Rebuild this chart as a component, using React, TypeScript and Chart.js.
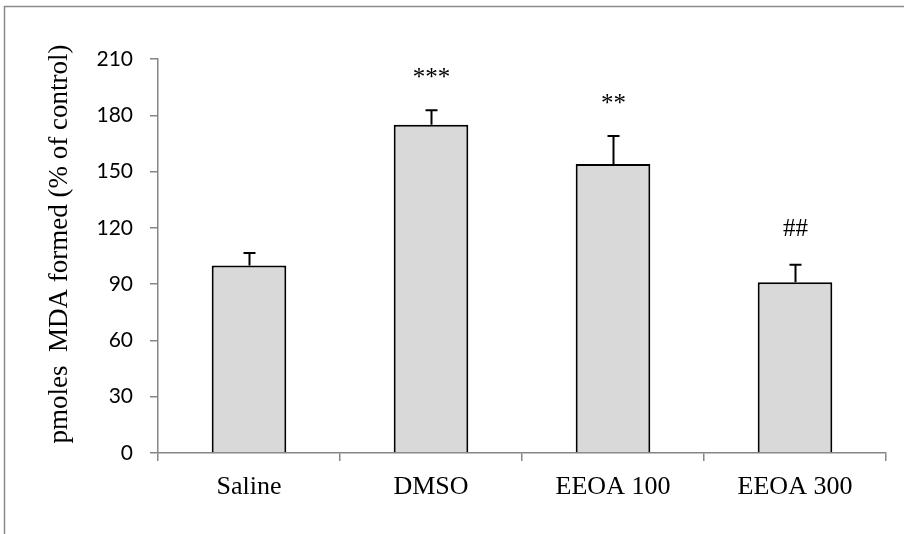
import React, { useEffect, useRef } from "react";
import { Chart, registerables } from "chart.js";

Chart.register(...registerables);

const categories = ["Saline", "DMSO", "EEOA 100", "EEOA 300"];
const means = [100, 175, 154, 91];
const errors = [6.6, 7.7, 14.9, 9.4];
const significance = ["", "***", "**", "##"];
const yMin = 0;
const yMax = 210;
const yStep = 30;
const yTitle = "pmoles  MDA formed (% of control)";

const AXIS_COLOR = "#868686";

const framePlugin = {
  id: "frame",
  beforeDraw(chart: any) {
    const ctx = chart.ctx;
    ctx.save();
    ctx.strokeStyle = "#8a8a8a";
    ctx.lineWidth = 1.5;
    ctx.beginPath();
    ctx.moveTo(4.5, chart.height + 5);
    ctx.lineTo(4.5, 6.5);
    ctx.lineTo(chart.width + 5, 6.5);
    ctx.stroke();
    ctx.restore();
  },
};

const errorBarPlugin = {
  id: "errorBars",
  afterDatasetsDraw(chart: any) {
    const ctx = chart.ctx;
    const meta = chart.getDatasetMeta(0);
    const yScale = chart.scales.y;
    ctx.save();
    meta.data.forEach((bar: any, i: number) => {
      const top = yScale.getPixelForValue(means[i] + errors[i]);
      const x = Math.round(bar.x) + 0.5;
      ctx.strokeStyle = "#000";
      ctx.lineWidth = 2;
      ctx.beginPath();
      ctx.moveTo(x, bar.y);
      ctx.lineTo(x, top);
      ctx.moveTo(x - 6, top);
      ctx.lineTo(x + 6, top);
      ctx.stroke();
      const label = significance[i];
      if (label) {
        ctx.font = "25px 'Liberation Serif', 'Times New Roman', serif";
        ctx.fillStyle = "#000";
        ctx.textAlign = "center";
        ctx.textBaseline = "alphabetic";
        const m = ctx.measureText(label);
        const inkH = m.actualBoundingBoxAscent + m.actualBoundingBoxDescent;
        const center = top - 37;
        const baseline = center + inkH / 2 - m.actualBoundingBoxDescent;
        ctx.fillText(label, x, baseline);
      }
    });
    ctx.restore();
  },
};

const yTitlePlugin = {
  id: "yTitle",
  afterDraw(chart: any) {
    const ctx = chart.ctx;
    const area = chart.chartArea;
    ctx.save();
    ctx.translate(60, (area.top + area.bottom) / 2 - 12);
    ctx.rotate(-Math.PI / 2);
    ctx.font = "27px 'Liberation Serif', 'Times New Roman', serif";
    ctx.fillStyle = "#000";
    ctx.textAlign = "center";
    ctx.textBaseline = "middle";
    ctx.fillText(yTitle, 0, 0);
    ctx.restore();
  },
};

export default function App() {
  const ref = useRef<HTMLCanvasElement | null>(null);

  useEffect(() => {
    if (!ref.current) return;
    const chart = new Chart(ref.current, {
      type: "bar",
      data: {
        labels: categories,
        datasets: [
          {
            data: means,
            backgroundColor: "#d9d9d9",
            borderColor: "#000",
            borderWidth: 2,
            borderSkipped: "bottom",
            barPercentage: 1,
            categoryPercentage: 0.41,
          },
        ],
      },
      options: {
        responsive: false,
        animation: false,
        devicePixelRatio: 1,
        layout: { padding: { left: 0, top: 59, right: 18, bottom: 0 } },
        plugins: {
          legend: { display: false },
          tooltip: { enabled: false },
        },
        scales: {
          x: {
            z: 1,
            grid: {
              drawOnChartArea: false,
              drawTicks: true,
              tickLength: 8,
              color: AXIS_COLOR,
              lineWidth: 1.5,
              offset: true,
            },
            border: { color: AXIS_COLOR, width: 1.5 },
            ticks: {
              color: "#000",
              padding: 11,
              font: { family: "'Liberation Serif', 'Times New Roman', serif", size: 26 },
            },
            afterFit: (s: any) => {
              s.height = 81;
            },
          },
          y: {
            min: yMin,
            max: yMax,
            grid: {
              drawOnChartArea: false,
              drawTicks: true,
              tickLength: 8,
              color: AXIS_COLOR,
              lineWidth: 1.5,
            },
            border: { color: AXIS_COLOR, width: 1.5 },
            ticks: {
              stepSize: yStep,
              color: "#000",
              padding: 17,
              font: { family: "Lato, 'Noto Sans', sans-serif", size: 21 },
            },
            afterFit: (s: any) => {
              s.width = 158;
            },
          },
        },
      },
      plugins: [framePlugin, errorBarPlugin, yTitlePlugin],
    });
    return () => chart.destroy();
  }, []);

  return (
    <div style={{ position: "absolute", left: 0, top: 0, width: 904, height: 534, background: "#fff" }}>
      <canvas ref={ref} width={904} height={534} style={{ display: "block" }} />
    </div>
  );
}
